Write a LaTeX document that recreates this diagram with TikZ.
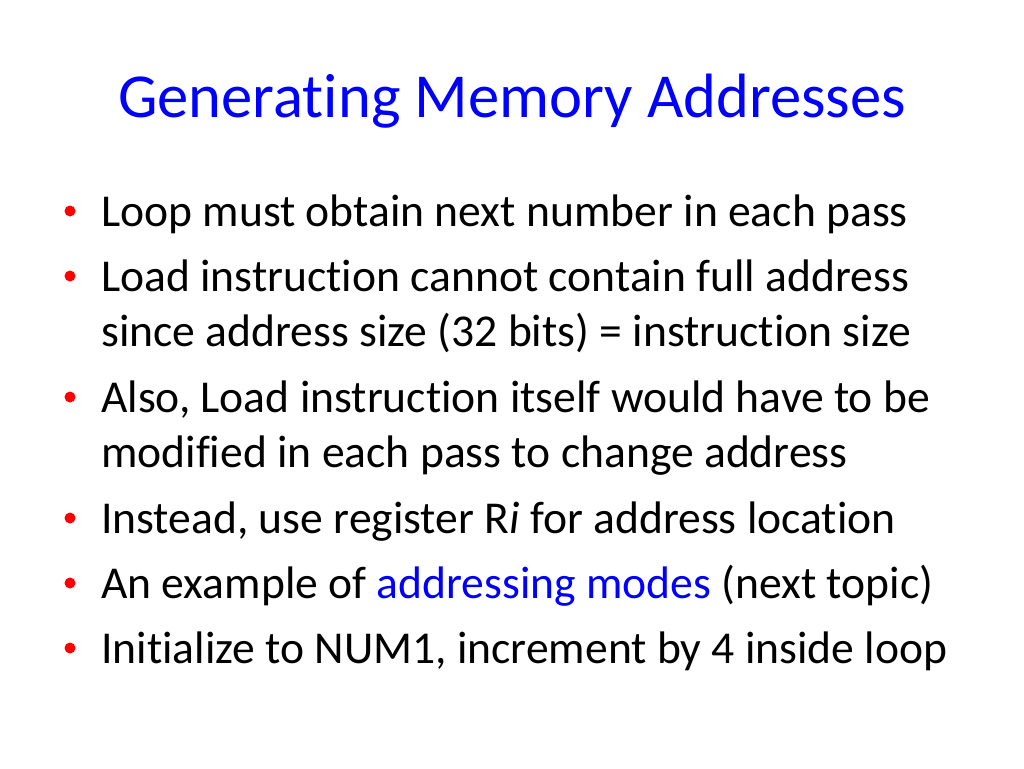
\documentclass[tikz,border=0pt]{standalone}
\usepackage{fontspec}
\setmainfont{Carlito}[Ligatures={NoCommon}]
\definecolor{titleblue}{RGB}{0,0,255}
\definecolor{bulletred}{RGB}{255,0,0}
\begin{document}
\begin{tikzpicture}[x=1pt,y=-1pt,
  body/.style={anchor=base west,inner sep=0pt,font=\fontsize{45.6}{52}\selectfont},
  dot/.style={circle,fill=bulletred,inner sep=0pt,minimum size=11pt}]
\useasboundingbox[fill=white] (0,0) rectangle (1024,768);
\node[anchor=base,inner sep=0pt,text=titleblue,font=\fontsize{62.6}{72}\selectfont] (title) at (512,117) {Generating Memory Addresses};
\node[body] (l1) at (101,226) {Loop must obtain next number in each pass};
\node[body] (l2) at (101,291) {Load instruction cannot contain full address};
\node[body] (l3) at (101,346) {since address size (32 bits) = instruction size};
\node[body] (l4) at (101,412) {Also, Load instruction itself would have to be};
\node[body] (l5) at (101,467) {modified in each pass to change address};
\node[body] (l6) at (101,533) {Instead, use register R\textit{i} for address location};
\node[body] (l7) at (101,598) {An example of \textcolor{titleblue}{addressing modes} (next topic)};
\node[body] (l8) at (101,663) {Initialize to NUM1, increment by 4 inside loop};
\node[dot] (b1) at (70,211) {};
\node[dot] (b2) at (70,276) {};
\node[dot] (b4) at (70,397) {};
\node[dot] (b6) at (70,518) {};
\node[dot] (b7) at (70,583) {};
\node[dot] (b8) at (70,648) {};
\end{tikzpicture}
\end{document}
